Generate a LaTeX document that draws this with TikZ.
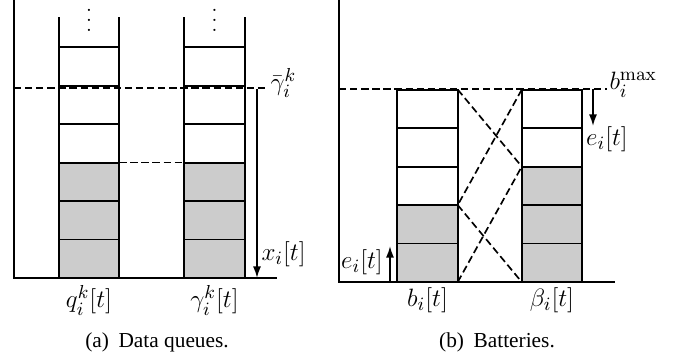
\documentclass[tikz,border=0pt]{standalone}
\usepackage[no-math]{fontspec}
\setmainfont{Liberation Serif}
\newfontfamily\capfont{Liberation Serif}
\usepackage{amsmath}
\usetikzlibrary{arrows.meta,positioning}
\newcommand{\stackdots}{\vbox{\baselineskip4.8pt\lineskiplimit0pt
  \hbox{$.$}\hbox{$.$}\hbox{$.$}}}

\begin{document}
\begin{tikzpicture}[x=0.478pt, y=-0.478pt,
  cell/.style={draw, line width=0.9pt, minimum width=28.9pt, minimum height=18.4pt,
    inner sep=0pt, outer sep=0pt},
  full/.style={cell, fill=black!20},
  axisline/.style={line width=1.1pt},
  wall/.style={line width=0.9pt},
  guide/.style={line width=0.8pt, dash pattern=on 3.5pt off 1.8pt},
  flow/.style={line width=0.8pt, -{Latex[length=5.5pt,width=3.8pt]}},
  mathlab/.style={font=\fontsize{12.5}{15}\selectfont, inner sep=1pt},
  caption/.style={font=\capfont\fontsize{10.2}{12}\selectfont}
]
  \useasboundingbox (0,0) rectangle (681,364);
  % (a) data queues
  \draw[axisline] (14,0) |- (277,278);
  \node[full] (q1) at (89,258.8) {};
  \node[full, above=0pt of q1] (q2) {};
  \node[full, above=0pt of q2] (q3) {};
  \node[cell, above=0pt of q3] (q4) {};
  \node[cell, above=0pt of q4] (q5) {};
  \node[cell, above=0pt of q5] (q6) {};
  \node[full] (g1) at (214.5,258.8) {};
  \node[full, above=0pt of g1] (g2) {};
  \node[full, above=0pt of g2] (g3) {};
  \node[cell, above=0pt of g3] (g4) {};
  \node[cell, above=0pt of g4] (g5) {};
  \node[cell, above=0pt of g5] (g6) {};
  \draw[wall] (q6.north west) -- ++(0,-30);
  \draw[wall] (q6.north east) -- ++(0,-30);
  \draw[wall] (g6.north west) -- ++(0,-30);
  \draw[wall] (g6.north east) -- ++(0,-30);
  \node[inner sep=0pt] (qdots) at (89,20) {\stackdots};
  \node[inner sep=0pt] (gdots) at (214.5,20) {\stackdots};
  \coordinate (gL) at (14,88);
  \coordinate (gR) at (268,88);
  \draw[guide] (gL) -- (gR);
  \node[mathlab, right=0pt of gR, yshift=2.5pt] (gbar) {$\bar{\gamma}_i^k$};
  \draw[guide] (q3.north east) -- (g3.north west);
  \coordinate (xtop) at (257,89);
  \coordinate (xbot) at (257,278);
  \draw[flow] (xtop) -- (xbot);
  \node[mathlab, anchor=west] (xlab) at (259,254) {$x_i[t]$};
  \node[mathlab, below=2.5pt of q1] (qlab) {$q_i^k[t]$};
  \node[mathlab, below=2.5pt of g1] (glab) {$\gamma_i^k[t]$};
  \node[caption] (capa) at (157,342) {(a)\hspace{0.45em}Data queues.};

  % (b) batteries
  \draw[axisline] (339,0) |- (615,282);
  \node[full] (b1) at (427.5,262.8) {};
  \node[full, above=0pt of b1] (b2) {};
  \node[cell, above=0pt of b2] (b3) {};
  \node[cell, above=0pt of b3] (b4) {};
  \node[cell, above=0pt of b4] (b5) {};
  \node[full] (be1) at (552,262.8) {};
  \node[full, above=0pt of be1] (be2) {};
  \node[full, above=0pt of be2] (be3) {};
  \node[cell, above=0pt of be3] (be4) {};
  \node[cell, above=0pt of be4] (be5) {};
  \coordinate (bL) at (339,89);
  \coordinate (bR) at (607,89);
  \draw[guide] (bL) -- (bR);
  \node[mathlab, right=0pt of bR, yshift=2pt] (bmax) {$b_i^{\max}$};
  \draw[guide] (b5.north east) -- (be3.north west);
  \draw[guide] (be5.north west) -- (b2.north east);
  \draw[guide] (b2.north east) -- (be1.south west);
  \draw[guide] (b1.south east) -- (be3.north west);
  \coordinate (dtop) at (593,89);
  \coordinate (dbot) at (593,126);
  \draw[flow] (dtop) -- (dbot);
  \node[mathlab] (eout) at (607,139) {$e_i[t]$};
  \coordinate (ubot) at (390,282);
  \coordinate (utop) at (390,246);
  \draw[flow] (ubot) -- (utop);
  \node[mathlab] (ein) at (362,262) {$e_i[t]$};
  \node[mathlab, below=1.5pt of b1] (blab) {$b_i[t]$};
  \node[mathlab, below=1.5pt of be1] (belab) {$\beta_i[t]$};
  \node[caption] (capb) at (497,342) {(b)\hspace{0.45em}Batteries.};
\end{tikzpicture}
\end{document}
